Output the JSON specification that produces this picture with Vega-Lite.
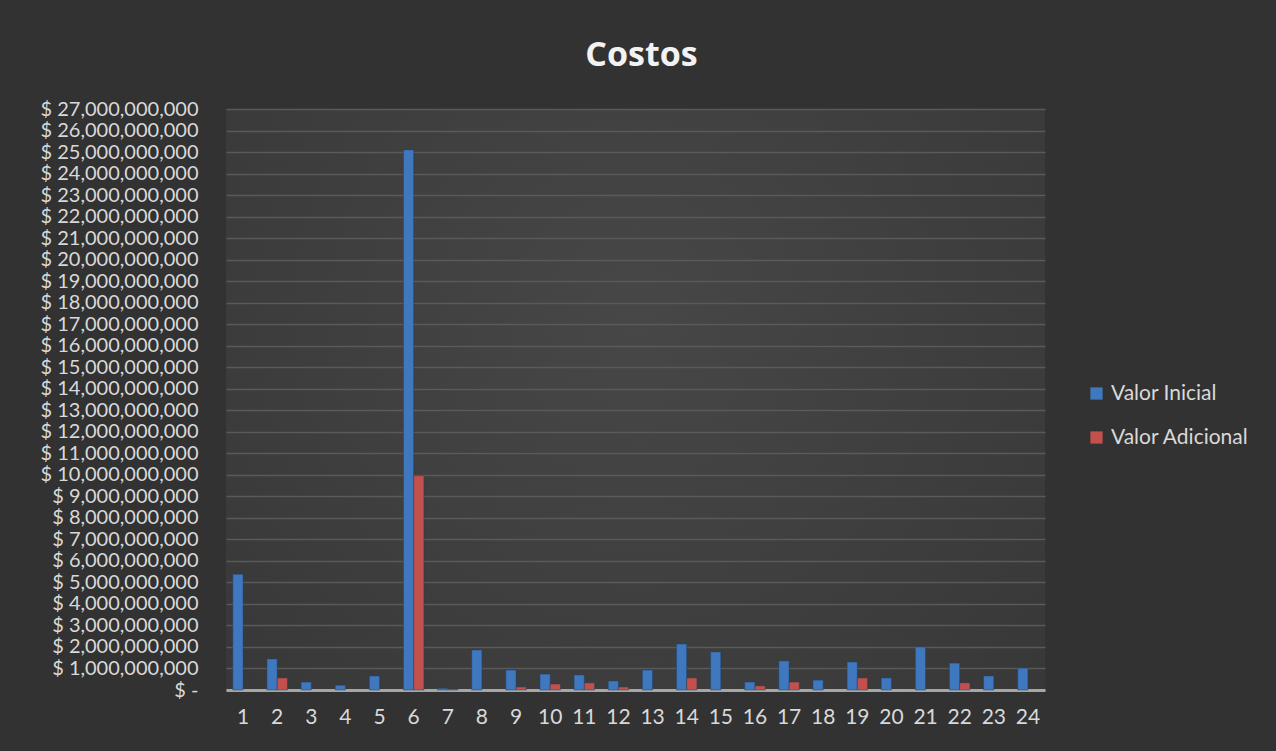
{
  "$schema": "https://vega.github.io/schema/vega-lite/v6.json",
  "width": 819,
  "height": 581,
  "autosize": {"type": "none"},
  "padding": {"left": 226, "top": 109, "right": 231, "bottom": 61},
  "background": "#323232",
  "title": {
    "text": "Costos",
    "font": "Open Sans",
    "fontSize": 34,
    "fontWeight": "bold",
    "color": "#f2f2f2",
    "anchor": "middle",
    "offset": 26,
    "dx": 6
  },
  "config": {
    "view": {
      "stroke": null,
      "fill": {
        "gradient": "radial",
        "x1": 0.5, "y1": 0.4, "x2": 0.5, "y2": 0.4, "r1": 0, "r2": 0.75,
        "stops": [
          {"offset": 0, "color": "#474747"},
          {"offset": 1, "color": "#363636"}
        ]
      }
    },
    "axis": {
      "labelFont": "Lato",
      "labelFontSize": 20,
      "labelColor": "#d9d9d9",
      "ticks": false,
      "title": null
    }
  },
  "data": {
    "values": [
      {"n": 1, "serie": "Valor Inicial", "valor": 5380000000},
      {"n": 2, "serie": "Valor Inicial", "valor": 1440000000},
      {"n": 2, "serie": "Valor Adicional", "valor": 560000000},
      {"n": 3, "serie": "Valor Inicial", "valor": 370000000},
      {"n": 4, "serie": "Valor Inicial", "valor": 220000000},
      {"n": 5, "serie": "Valor Inicial", "valor": 650000000},
      {"n": 6, "serie": "Valor Inicial", "valor": 25100000000},
      {"n": 6, "serie": "Valor Adicional", "valor": 9960000000},
      {"n": 7, "serie": "Valor Inicial", "valor": 80000000},
      {"n": 7, "serie": "Valor Adicional", "valor": 25000000},
      {"n": 8, "serie": "Valor Inicial", "valor": 1860000000},
      {"n": 9, "serie": "Valor Inicial", "valor": 930000000},
      {"n": 9, "serie": "Valor Adicional", "valor": 140000000},
      {"n": 10, "serie": "Valor Inicial", "valor": 740000000},
      {"n": 10, "serie": "Valor Adicional", "valor": 280000000},
      {"n": 11, "serie": "Valor Inicial", "valor": 700000000},
      {"n": 11, "serie": "Valor Adicional", "valor": 330000000},
      {"n": 12, "serie": "Valor Inicial", "valor": 420000000},
      {"n": 12, "serie": "Valor Adicional", "valor": 140000000},
      {"n": 13, "serie": "Valor Inicial", "valor": 930000000},
      {"n": 14, "serie": "Valor Inicial", "valor": 2140000000},
      {"n": 14, "serie": "Valor Adicional", "valor": 560000000},
      {"n": 15, "serie": "Valor Inicial", "valor": 1770000000},
      {"n": 16, "serie": "Valor Inicial", "valor": 370000000},
      {"n": 16, "serie": "Valor Adicional", "valor": 190000000},
      {"n": 17, "serie": "Valor Inicial", "valor": 1350000000},
      {"n": 17, "serie": "Valor Adicional", "valor": 370000000},
      {"n": 18, "serie": "Valor Inicial", "valor": 460000000},
      {"n": 19, "serie": "Valor Inicial", "valor": 1300000000},
      {"n": 19, "serie": "Valor Adicional", "valor": 560000000},
      {"n": 20, "serie": "Valor Inicial", "valor": 560000000},
      {"n": 21, "serie": "Valor Inicial", "valor": 2000000000},
      {"n": 22, "serie": "Valor Inicial", "valor": 1250000000},
      {"n": 22, "serie": "Valor Adicional", "valor": 330000000},
      {"n": 23, "serie": "Valor Inicial", "valor": 650000000},
      {"n": 24, "serie": "Valor Inicial", "valor": 1020000000}
    ]
  },
  "mark": {"type": "bar", "stroke": "#1f3f66", "strokeWidth": 0.8, "strokeOpacity": 0.6},
  "encoding": {
    "x": {
      "field": "n",
      "type": "ordinal",
      "scale": {"paddingInner": 0.4, "paddingOuter": 0.2},
      "axis": {
        "labelAngle": 0,
        "labelPadding": 16,
        "labelFontSize": 21,
        "domainColor": "#a6a6a6",
        "domainWidth": 3,
        "grid": false
      }
    },
    "xOffset": {
      "field": "serie",
      "type": "nominal",
      "scale": {"domain": ["Valor Inicial", "Valor Adicional"], "paddingInner": 0}
    },
    "y": {
      "field": "valor",
      "type": "quantitative",
      "scale": {"domain": [0, 27000000000], "nice": false},
      "axis": {
        "values": [0, 1000000000, 2000000000, 3000000000, 4000000000, 5000000000, 6000000000, 7000000000, 8000000000, 9000000000, 10000000000, 11000000000, 12000000000, 13000000000, 14000000000, 15000000000, 16000000000, 17000000000, 18000000000, 19000000000, 20000000000, 21000000000, 22000000000, 23000000000, 24000000000, 25000000000, 26000000000, 27000000000],
        "labelExpr": "datum.value == 0 ? '$ -' : '$ ' + format(datum.value, ',')",
        "labelPadding": 28,
        "labelBound": false,
        "labelOverlap": false,
        "domain": false,
        "grid": true,
        "gridColor": "#5a5a5a",
        "gridWidth": 1.5
      }
    },
    "color": {
      "field": "serie",
      "type": "nominal",
      "scale": {"domain": ["Valor Inicial", "Valor Adicional"], "range": ["#3f78bf", "#c4504c"]},
      "legend": {
        "title": null,
        "orient": "none",
        "legendX": 860,
        "legendY": 274,
        "symbolType": "square",
        "symbolSize": 150,
        "symbolStrokeWidth": 0,
        "labelFont": "Lato",
        "labelFontSize": 21,
        "labelColor": "#d9d9d9",
        "labelOffset": 4,
        "rowPadding": 22
      }
    }
  }
}
